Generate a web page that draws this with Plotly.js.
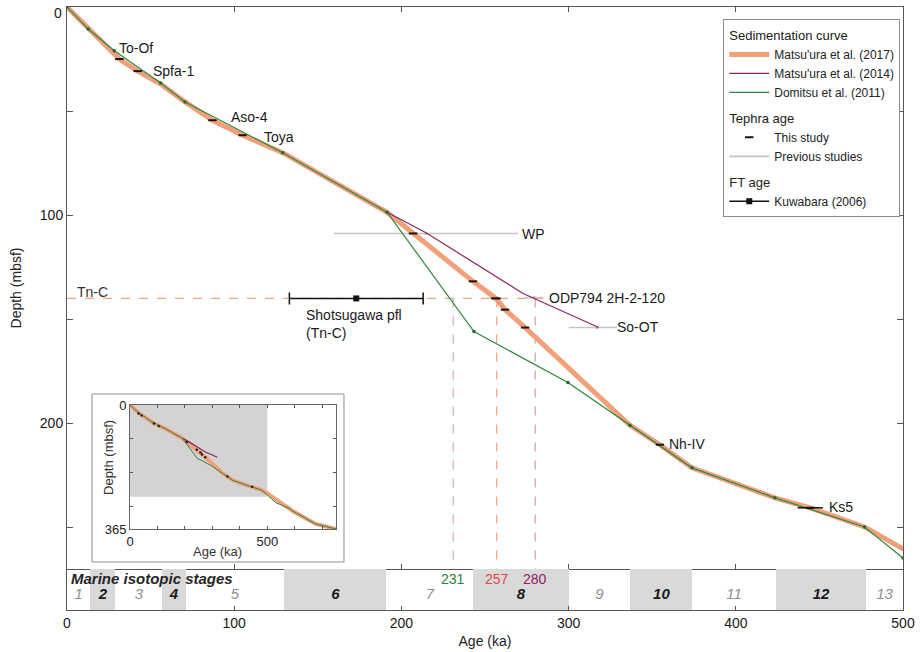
<!DOCTYPE html>
<html><head><meta charset="utf-8">
<script src="https://cdn.plot.ly/plotly-3.0.1.min.js"></script>
<style>html,body{margin:0;padding:0;background:#fff}#chart{width:921px;height:652px}</style>
</head><body><div id="chart"></div>
<script>
// ---------------- data ----------------
// Sedimentation curves (age ka, depth mbsf)
const ageM2017   = [0, 13, 31.3, 42.3, 56, 70.6, 87, 105, 129, 191.4, 207, 242.8, 256.5, 262, 274, 336.7, 354.6, 373.8, 423.4, 444.5, 477, 500, 592, 676, 750];
const depthM2017 = [0, 10.5, 25, 30.8, 37, 45.6, 54.4, 61.6, 70, 98.6, 108.8, 131.8, 140, 145.4, 154, 201, 210.3, 221.4, 235.8, 240.6, 249.8, 260.3, 312, 350, 365];
const ageM2014   = [191.4, 215, 272.5, 318];
const depthM2014 = [98.6, 108.6, 137.5, 154];
const ageD2011   = [0, 12.7, 28.3, 56, 70.6, 129, 191.4, 243.4, 299.6, 336.7, 373.8, 423.4, 477, 500, 531, 580, 592, 676, 750];
const depthD2011 = [0, 10.6, 21, 36.5, 45.6, 70, 98.6, 155.9, 180.4, 201, 221.4, 235.8, 249.8, 264.7, 287.6, 304, 312, 350, 365];

// Tephra ages - this study
const studyAge   = [31.3, 42.3, 87, 105, 207, 242.8, 256.5, 262, 274, 354.6, 444.5];
const studyDepth = [25, 30.8, 54.4, 61.6, 108.8, 131.8, 140, 145.4, 154, 210.3, 240.6];
const studyErr   = [0, 0, 0, 0, 0, 0, 3, 0, 0, 0, 7.5];

// Tephra ages - previous studies
const prevAge      = [214.7, 279.3, 317];
const prevDepth    = [108.8, 139.6, 154];
const prevErrPlus  = [55, 5.4, 12];
const prevErrMinus = [55, 5.4, 17];

// FT age (Kuwabara 2006)
const ftAge = [173];
const ftDepth = [140];
const ftErr = [40];

// Tn-C horizon and correlated ages
const tncDepth = 140;
const tncLineEndAge = 285;
const crossAges = [231, 257, 280];
const crossLabels = ['231', '257', '280'];

// Marine isotope stages
const misNames = ['1','2','3','4','5','6','7','8','9','10','11','12','13'];
const misStart = [0, 14, 29, 57, 71, 130, 191, 243, 300, 337, 374, 424, 478];
const misEnd   = [14, 29, 57, 71, 130, 191, 243, 300, 337, 374, 424, 478, 533];

// Tephra label texts
const tephraLabelText = ['To-Of','Spfa-1','Aso-4','Toya','WP','ODP794 2H-2-120','So-OT','Nh-IV','Ks5'];

// ---------------- layout constants ----------------
const FONT = 'Liberation Sans, Arial, Helvetica, sans-serif';
const AGE_MAX = 500, DEPTH_MAX = 270;
const INSET_AGE_MAX = 750, INSET_DEPTH_MAX = 365;
const C2017 = '#f2a07a', C2014 = '#8b2663', C2011 = '#2f8540';
const crossLineColors = ['#d6aaaa', '#f0a27f', '#cc9db6'];
const crossTextColors = ['#2e7d46', '#e8473d', '#8e1f5e'];
const tephraLabelPos = [[30,19.5],[50.5,30.8],[97,52.9],[116.5,62.6],[271,109.2],[287,140],[328,153.5],[359,209.8],[454.5,240.1]];

const traces = [];
// Tn-C horizontal dashed
traces.push({x:[0, tncLineEndAge], y:[tncDepth, tncDepth], mode:'lines', xaxis:'x', yaxis:'y',
  line:{color:'#f0a884', width:1.2, dash:'dash'}, showlegend:false, hoverinfo:'skip'});
// vertical dashed lines
crossAges.forEach((a,i)=>traces.push({x:[a,a], y:[tncDepth, DEPTH_MAX], mode:'lines', xaxis:'x', yaxis:'y',
  line:{color:crossLineColors[i], width:1.2, dash:'dash'}, showlegend:false, hoverinfo:'skip'}));

// previous studies: gray range segments
const prevX = [], prevY = [];
prevAge.forEach((a,i)=>{prevX.push(a-prevErrMinus[i], a+prevErrPlus[i], null); prevY.push(prevDepth[i], prevDepth[i], null);});
traces.push({x:prevX, y:prevY, mode:'lines', xaxis:'x', yaxis:'y', connectgaps:false,
  line:{color:'#c6c6c6', width:1.6}, name:'Previous studies', legendgroup:'teph', legendrank:5,
  legendgrouptitle:{text:'Tephra age'}, hoverinfo:'skip'});
traces.push({x:prevAge, y:prevDepth, mode:'markers', xaxis:'x', yaxis:'y',
  marker:{color:'#b0b0b0', size:3}, showlegend:false, hoverinfo:'skip'});

// sedimentation curves
traces.push({x:ageM2017, y:depthM2017, mode:'lines', xaxis:'x', yaxis:'y',
  line:{color:C2017, width:5}, name:"Matsu'ura et al. (2017)", legendgroup:'sed', legendrank:1,
  legendgrouptitle:{text:'Sedimentation curve'}});
traces.push({x:ageM2014, y:depthM2014, mode:'lines', xaxis:'x', yaxis:'y',
  line:{color:C2014, width:1.2}, name:"Matsu'ura et al. (2014)", legendgroup:'sed', legendrank:2,
  legendgrouptitle:{text:'Sedimentation curve'}});
traces.push({x:ageD2011, y:depthD2011, mode:'lines', xaxis:'x', yaxis:'y',
  line:{color:C2011, width:1.2}, name:'Domitsu et al. (2011)', legendgroup:'sed', legendrank:3,
  legendgrouptitle:{text:'Sedimentation curve'}});
traces.push({x:ageD2011, y:depthD2011, mode:'markers', xaxis:'x', yaxis:'y',
  marker:{color:'#1f6b30', size:3.5}, showlegend:false, hoverinfo:'skip'});

// FT age
traces.push({x:ftAge, y:ftDepth, mode:'lines+markers', xaxis:'x', yaxis:'y',
  line:{color:'#111', width:1.5}, marker:{symbol:'square', size:6, color:'#111'},
  error_x:{type:'data', array:ftErr, color:'#111', thickness:1.5, width:6},
  name:'Kuwabara (2006)', legendgroup:'ft', legendrank:6, legendgrouptitle:{text:'FT age'}});

// this study tephra
traces.push({x:studyAge, y:studyDepth, mode:'markers', xaxis:'x', yaxis:'y',
  marker:{symbol:'line-ew', size:6, line:{width:2, color:'#1a1010'}, color:'#1a1010'},
  error_x:{type:'data', array:studyErr, color:'#111', thickness:1.5, width:0},
  name:'This study', legendgroup:'teph', legendrank:4, legendgrouptitle:{text:'Tephra age'}});

// ---- MIS strip ----
const shadeX=[], shadeW=[], shadeY=[];
misNames.forEach((n,i)=>{ if(parseInt(n)%2===0){ shadeX.push((misStart[i]+misEnd[i])/2); shadeW.push(misEnd[i]-misStart[i]); shadeY.push(1);} });
traces.push({type:'bar', x:shadeX, y:shadeY, width:shadeW, base:0, xaxis:'x2', yaxis:'y2',
  marker:{color:'#d9d9d9', line:{width:0}}, showlegend:false, hoverinfo:'skip'});
const oddX=[], oddT=[], evenX=[], evenT=[];
misNames.forEach((n,i)=>{ const c=(misStart[i]+Math.min(misEnd[i],AGE_MAX))/2;
  if(parseInt(n)%2===0){evenX.push(c); evenT.push(n);} else {oddX.push(c); oddT.push(n);} });
traces.push({x:oddX, y:oddX.map(()=>0.35), text:oddT, mode:'text', xaxis:'x2', yaxis:'y2',
  textfont:{family:FONT, size:15, color:'#8f8f8f', style:'italic'}, showlegend:false, hoverinfo:'skip'});
traces.push({x:evenX, y:evenX.map(()=>0.35), text:evenT, mode:'text', xaxis:'x2', yaxis:'y2',
  textfont:{family:FONT, size:15, color:'#1a1a1a', style:'italic', weight:'bold'}, showlegend:false, hoverinfo:'skip'});

// ---- inset ----
traces.push({x:ageM2017, y:depthM2017, mode:'lines', xaxis:'x3', yaxis:'y3', line:{color:C2017, width:4}, showlegend:false, hoverinfo:'skip'});
traces.push({x:ageM2014, y:depthM2014, mode:'lines', xaxis:'x3', yaxis:'y3', line:{color:C2014, width:1.2}, showlegend:false, hoverinfo:'skip'});
traces.push({x:ageD2011, y:depthD2011, mode:'lines', xaxis:'x3', yaxis:'y3', line:{color:C2011, width:1}, showlegend:false, hoverinfo:'skip'});
traces.push({x:studyAge, y:studyDepth, mode:'markers', xaxis:'x3', yaxis:'y3', marker:{color:'#222', size:2.5}, showlegend:false, hoverinfo:'skip'});

// ---- annotations ----
const annotations = [];
tephraLabelText.forEach((t,i)=>annotations.push({x:tephraLabelPos[i][0], y:tephraLabelPos[i][1], xref:'x', yref:'y', text:t,
  showarrow:false, xanchor:'left', yanchor:'middle', font:{size:14, color:'#1a1a1a'}}));
annotations.push({x:4.8, y:136.7, xref:'x', yref:'y', text:'Tn-C', showarrow:false, xanchor:'left', yanchor:'middle', font:{size:14, color:'#333'}});
annotations.push({x:142, y:152.3, xref:'x', yref:'y', text:'Shotsugawa pfl<br>(Tn-C)', align:'left', showarrow:false, xanchor:'left', yanchor:'middle', font:{size:14, color:'#1a1a1a'}});
crossAges.forEach((a,i)=>annotations.push({x:a, y:0.76, xref:'x2', yref:'y2', text:crossLabels[i], showarrow:false,
  xanchor:'center', yanchor:'middle', font:{size:14, color:crossTextColors[i]}}));
annotations.push({x:1, y:0.78, xref:'x2', yref:'y2', text:'Marine isotopic stages', showarrow:false, xanchor:'left', yanchor:'middle',
  font:{size:15, color:'#262626', style:'italic', weight:'bold'}});
annotations.push({x:0.049, y:0.2537, xref:'paper', yref:'paper', text:'Depth (mbsf)', textangle:-90, showarrow:false, xanchor:'center', yanchor:'middle', font:{size:13, color:'#333'}});
annotations.push({x:0.1806, y:0.0962, xref:'paper', yref:'paper', text:'Age (ka)', showarrow:false, xanchor:'center', yanchor:'middle', font:{size:13, color:'#333'}});
// top "0" depth label (sits just below the frame edge)
annotations.push({x:0, y:0, xref:'paper', yref:'y', text:'0', showarrow:false, xanchor:'right', yanchor:'middle', xshift:-3, yshift:-6, font:{size:14, color:'#1a1a1a'}});

const axBase = {showgrid:false, zeroline:false, showline:true, linecolor:'#555', linewidth:1, tickcolor:'#555'};
const layout = {
  width:921, height:652,
  margin:{l:67, r:18, t:7, b:42},
  paper_bgcolor:'#fff', plot_bgcolor:'#fff',
  font:{family:FONT, size:13, color:'#222'},
  showlegend:true, hovermode:false, bargap:0,
  legend:{x:0.785, y:0.98, xanchor:'left', yanchor:'top', bgcolor:'#fff', bordercolor:'#8c8c8c', borderwidth:1,
    font:{size:12, color:'#222'}, grouptitlefont:{size:13, color:'#222'}, tracegroupgap:6, traceorder:'grouped', itemwidth:40},
  xaxis:Object.assign({}, axBase, {domain:[0,1], range:[0,AGE_MAX], anchor:'y', tickvals:[100,200,300,400],
    showticklabels:false, ticks:'inside', ticklen:5, mirror:'ticks'}),
  yaxis:Object.assign({}, axBase, {domain:[0.068,1], range:[DEPTH_MAX,0], anchor:'x', tickvals:[0,50,100,150,200,250],
    ticktext:['','','100','','200',''], ticks:'inside', ticklen:6, mirror:'ticks', tickfont:{size:14, color:'#1a1a1a'},
    title:{text:'Depth (mbsf)', font:{size:14, color:'#222'}, standoff:14}}),
  xaxis2:Object.assign({}, axBase, {domain:[0,1], range:[0,AGE_MAX], anchor:'y2', tickvals:[0,100,200,300,400,500],
    ticks:'inside', ticklen:4, tickfont:{size:14, color:'#1a1a1a'}, title:{text:'Age (ka)', font:{size:14, color:'#222'}, standoff:6}}),
  yaxis2:Object.assign({}, axBase, {domain:[0,0.068], range:[0,1], anchor:'x2', showticklabels:false, ticks:'', mirror:true}),
  xaxis3:Object.assign({}, axBase, {domain:[0.0754,0.3218], range:[0,INSET_AGE_MAX], anchor:'y3',
    tickvals:[0,100,200,300,400,500,600,700], ticktext:['0','','','','','500','',''], ticks:'inside', ticklen:3, mirror:'ticks',
    linecolor:'#666', tickfont:{size:13, color:'#222'}}),
  yaxis3:Object.assign({}, axBase, {domain:[0.1343,0.340], range:[INSET_DEPTH_MAX,0], anchor:'x3',
    tickvals:[0,100,200,300,365], ticktext:['0','','','','365'], ticks:'inside', ticklen:3, mirror:'ticks',
    linecolor:'#666', tickfont:{size:13, color:'#222'}}),
  shapes:[
    {type:'rect', xref:'paper', yref:'paper', x0:0.0299, x1:0.3313, y0:0.0796, y1:0.3582, fillcolor:'#fff', line:{color:'#8f8f8f', width:1}, layer:'below'},
    {type:'rect', xref:'x3', yref:'y3', x0:0, x1:AGE_MAX, y0:0, y1:DEPTH_MAX, fillcolor:'#d3d3d3', line:{width:0}, layer:'below'}
  ],
  annotations:annotations
};
Plotly.newPlot('chart', traces, layout, {staticPlot:true, displayModeBar:false});
</script></body></html>
